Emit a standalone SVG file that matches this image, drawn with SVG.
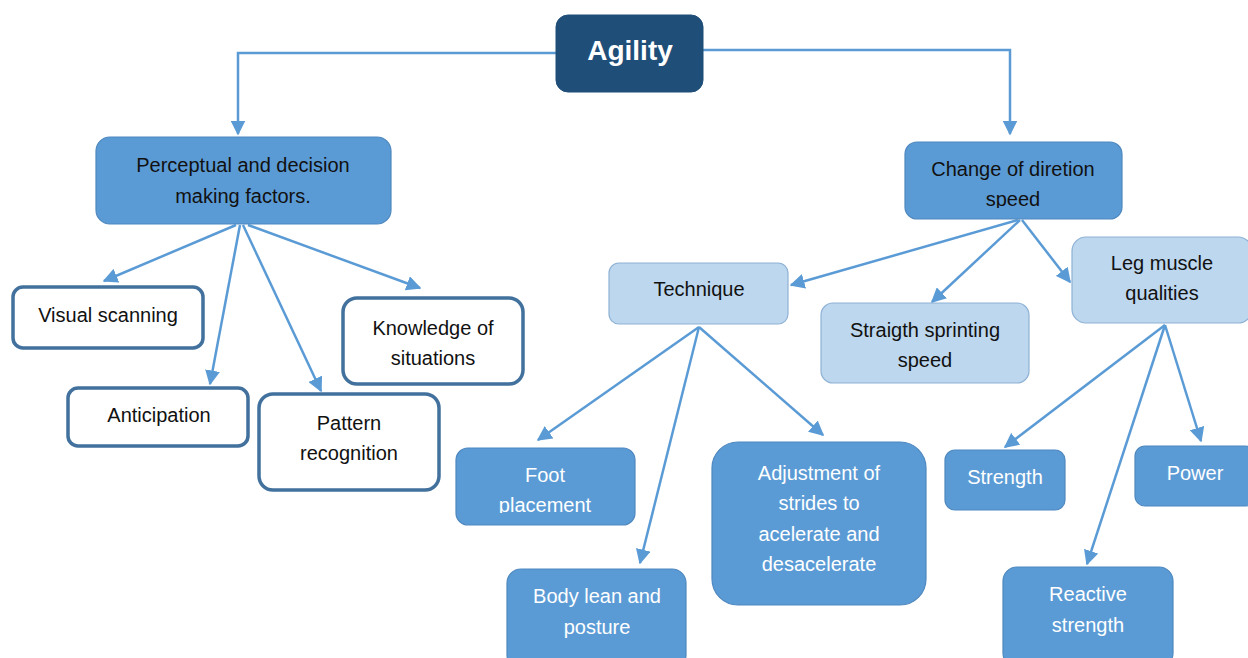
<svg xmlns="http://www.w3.org/2000/svg" width="1248" height="658" viewBox="0 0 1248 658">
<defs>
<style>
text{font-family:"Liberation Sans",Arial,sans-serif;font-size:20px;text-anchor:middle}
.dark{fill:#1f4e79;stroke:#1f4e79}
.mid{fill:#5b9bd5;stroke:#4f88bf;stroke-width:1.2}
.light{fill:#bdd7ee;stroke:#8eb1d4;stroke-width:1.2}
.white{fill:#ffffff;stroke:#41719c;stroke-width:3.5}
.tb{fill:#111111}
.tw{fill:#ffffff}
.conn{fill:none;stroke:#5b9bd5;stroke-width:2.5;marker-end:url(#ah)}
</style>
<marker id="ah" viewBox="0 0 10 10" refX="9" refY="5" markerWidth="6" markerHeight="6" orient="auto" markerUnits="strokeWidth">
<path d="M0,0 L10,5 L0,10 z" fill="#5b9bd5"/>
</marker>
<clipPath id="cChange"><rect x="905" y="142" width="217" height="66"/></clipPath>
<clipPath id="cFoot"><rect x="456" y="448" width="179" height="65"/></clipPath>
</defs>
<rect width="1248" height="658" fill="#ffffff"/>
<g id="connectors">
<path class="conn" d="M556,53 H238 V134"/>
<path class="conn" d="M703,50 H1010 V134"/>
<path class="conn" d="M236,225 L104,281"/>
<path class="conn" d="M240,225 L210,384"/>
<path class="conn" d="M243,225 L321,391"/>
<path class="conn" d="M248,225 L420,288"/>
<path class="conn" d="M1018,220 L791,285"/>
<path class="conn" d="M1020,220 L932,302"/>
<path class="conn" d="M1022,220 L1070,282"/>
<path class="conn" d="M699,327 L538,440"/>
<path class="conn" d="M699,327 L640,563"/>
<path class="conn" d="M699,327 L823,435"/>
<path class="conn" d="M1165,325 L1005,447"/>
<path class="conn" d="M1165,325 L1087,564"/>
<path class="conn" d="M1165,325 L1201,441"/>
</g>
<g id="agility">
<rect class="dark" x="556" y="15" width="147" height="77" rx="12"/>
<text class="tw" x="630" y="60" style="font-size:28px;font-weight:bold">Agility</text>
</g>
<g id="perceptual">
<rect class="mid" x="96" y="137" width="295" height="87" rx="14"/>
<text class="tb" x="243" y="172">Perceptual and decision</text>
<text class="tb" x="243" y="203">making factors.</text>
</g>
<g id="visual">
<rect class="white" x="13" y="287" width="190" height="61" rx="10"/>
<text class="tb" x="108" y="322">Visual scanning</text>
</g>
<g id="anticipation">
<rect class="white" x="68" y="388" width="180" height="58" rx="10"/>
<text class="tb" x="159" y="422">Anticipation</text>
</g>
<g id="pattern">
<rect class="white" x="259" y="394" width="180" height="96" rx="14"/>
<text class="tb" x="349" y="430">Pattern</text>
<text class="tb" x="349" y="460">recognition</text>
</g>
<g id="knowledge">
<rect class="white" x="343" y="298" width="180" height="86" rx="14"/>
<text class="tb" x="433" y="335">Knowledge of</text>
<text class="tb" x="433" y="365">situations</text>
</g>
<g id="change">
<rect class="mid" x="905" y="142" width="217" height="77" rx="12"/>
<g clip-path="url(#cChange)">
<text class="tb" x="1013" y="176">Change of diretion</text>
<text class="tb" x="1013" y="206">speed</text>
</g>
</g>
<g id="technique">
<rect class="light" x="609" y="263" width="179" height="61" rx="10"/>
<text class="tb" x="699" y="296">Technique</text>
</g>
<g id="straigth">
<rect class="light" x="821" y="303" width="208" height="80" rx="12"/>
<text class="tb" x="925" y="337">Straigth sprinting</text>
<text class="tb" x="925" y="367">speed</text>
</g>
<g id="leg">
<rect class="light" x="1072" y="237" width="180" height="86" rx="14"/>
<text class="tb" x="1162" y="270">Leg muscle</text>
<text class="tb" x="1162" y="300">qualities</text>
</g>
<g id="foot">
<rect class="mid" x="456" y="448" width="179" height="77" rx="12"/>
<g clip-path="url(#cFoot)">
<text class="tw" x="545" y="482">Foot</text>
<text class="tw" x="545" y="512">placement</text>
</g>
</g>
<g id="body">
<rect class="mid" x="507" y="569" width="179" height="100" rx="14"/>
<text class="tw" x="597" y="603">Body lean and</text>
<text class="tw" x="597" y="634">posture</text>
</g>
<g id="adjustment">
<rect class="mid" x="712" y="442" width="214" height="163" rx="26"/>
<text class="tw" x="819" y="480">Adjustment of</text>
<text class="tw" x="819" y="510">strides to</text>
<text class="tw" x="819" y="541">acelerate and</text>
<text class="tw" x="819" y="571">desacelerate</text>
</g>
<g id="strength">
<rect class="mid" x="945" y="450" width="120" height="60" rx="10"/>
<text class="tw" x="1005" y="484">Strength</text>
</g>
<g id="power">
<rect class="mid" x="1135" y="446" width="120" height="60" rx="10"/>
<text class="tw" x="1195" y="480">Power</text>
</g>
<g id="reactive">
<rect class="mid" x="1003" y="567" width="170" height="100" rx="14"/>
<text class="tw" x="1088" y="601">Reactive</text>
<text class="tw" x="1088" y="632">strength</text>
</g>
</svg>
